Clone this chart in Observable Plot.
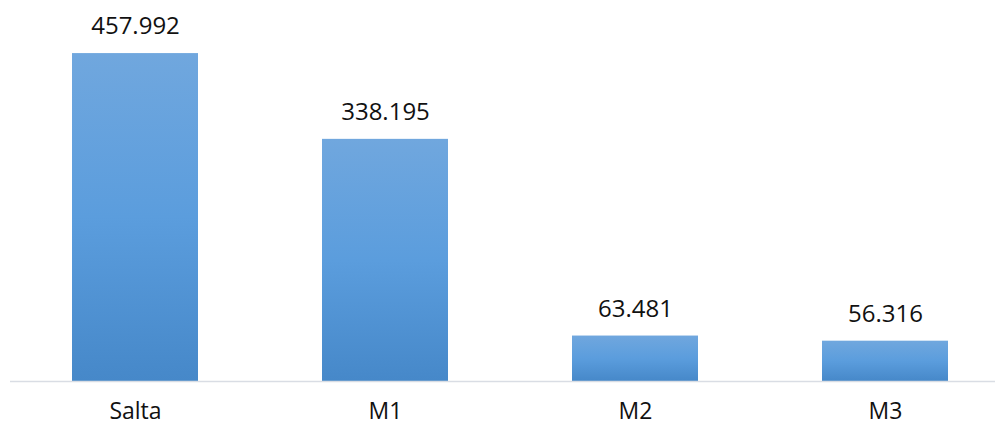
<!DOCTYPE html>
<html>
<head>
<meta charset="utf-8">
<script src="https://cdn.jsdelivr.net/npm/d3@7"></script>
<script src="https://cdn.jsdelivr.net/npm/@observablehq/plot@0.6"></script>
<style>
  html, body { margin: 0; padding: 0; background: #fff; }
  #chart svg { display: block; }
</style>
</head>
<body>
<div id="chart"></div>
<script>
const categories = ["Salta", "M1", "M2", "M3"];
const values = [457.992, 338.195, 63.481, 56.316];
const valueLabels = ["457.992", "338.195", "63.481", "56.316"];

const data = categories.map((c, i) => ({cat: c, value: values[i], label: valueLabels[i]}));

const font = "'Open Sans', sans-serif";

const chart = Plot.plot({
  width: 995,
  height: 425,
  marginTop: 23,
  marginBottom: 44,
  marginLeft: 10,
  marginRight: 0,
  style: {fontFamily: font, background: "#fff"},
  x: {domain: categories, range: [10, 1010], paddingInner: 0.496, paddingOuter: 0.248, axis: null},
  y: {domain: [0, 500], axis: null},
  marks: [
    Plot.barY(data, {x: "cat", y: "value", fill: "url(#barGrad)"}),
    Plot.ruleY([0], {stroke: "#d9dde4", strokeWidth: 1.5}),
    Plot.text(data, {x: "cat", y: "value", text: "label", dy: -27, fontSize: 24, fill: "#111", fontFamily: font}),
    Plot.text(data, {x: "cat", y: 0, text: "cat", dy: 30, fontSize: 23, fill: "#111", fontFamily: font})
  ]
});

const ns = "http://www.w3.org/2000/svg";
const defs = document.createElementNS(ns, "defs");
const grad = document.createElementNS(ns, "linearGradient");
grad.setAttribute("id", "barGrad");
grad.setAttribute("x1", "0"); grad.setAttribute("y1", "0");
grad.setAttribute("x2", "0"); grad.setAttribute("y2", "1");
[["0%", "#70a7de"], ["50%", "#5b9ddd"], ["100%", "#4688c9"]].forEach(([o, c]) => {
  const s = document.createElementNS(ns, "stop");
  s.setAttribute("offset", o);
  s.setAttribute("stop-color", c);
  grad.appendChild(s);
});
defs.appendChild(grad);
chart.insertBefore(defs, chart.firstChild);

document.getElementById("chart").appendChild(chart);
</script>
</body>
</html>
